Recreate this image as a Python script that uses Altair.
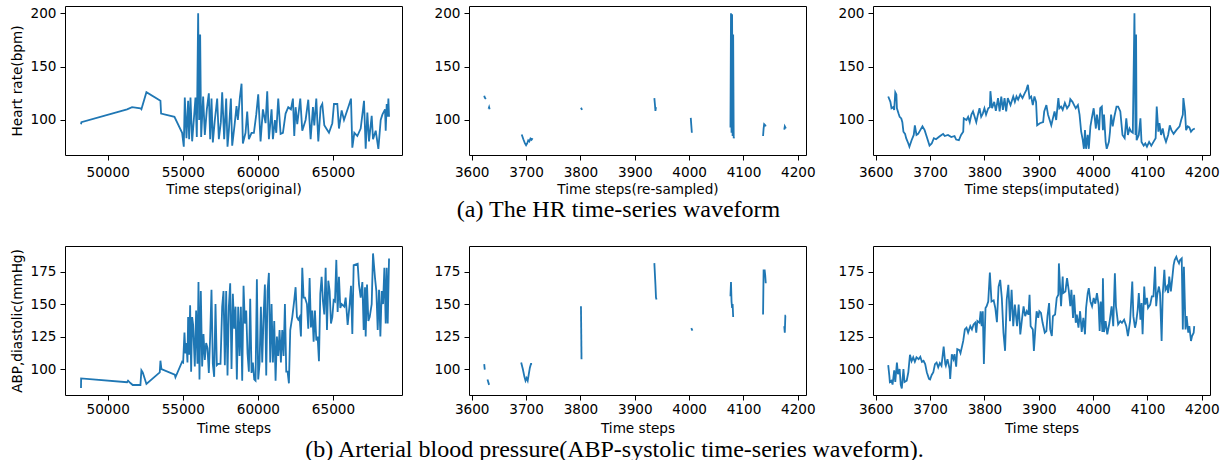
import altair as alt
import pandas as pd

BLUE = "#1f77b4"
FONT = "DejaVu Sans"

# ---------------- (a) HR, original time steps ----------------
hr_orig_t = [48224, 48250, 51289, 51622, 52178, 52244, 52578, 53511, 53555, 54444, 54955, 55066,
             55133, 55244, 55355, 55422, 55511, 55622, 55733, 55844, 55933, 56022,
             56088, 56155, 56222, 56355, 56466, 56600, 56733, 56822, 56911, 57000,
             57133, 57289, 57400, 57533, 57622, 57755, 57889, 57977, 58066, 58200,
             58289, 58444, 58577, 58666, 58800, 58911, 59000, 59177, 59288, 59400,
             59577, 59733, 59889, 60022, 60177, 60333, 60510, 60621, 60733, 60910,
             60999, 61132, 61221, 61354, 61510, 61666, 61843, 62021, 62199, 62332,
             62421, 62510, 62621, 62821, 62954, 63176, 63354, 63510, 63665, 63754,
             63888, 64021, 64176, 64287, 64421, 64554, 64732, 64954, 65065, 65287,
             65398, 65576, 65732, 66065, 66198, 66287, 66421, 66621, 66843, 67065,
             67176, 67287, 67398, 67576, 67665, 67843, 68020, 68176, 68287, 68465,
             68509, 68576, 68643, 68687, 68731]
hr_orig_v = [96, 98, 110, 112, 111, 110, 126, 118, 106, 103, 88, 75,
             121, 83, 118, 82, 121, 80, 100, 121, 84, 200,
             100, 180, 84, 122, 86, 110, 125, 82, 120, 79,
             100, 120, 82, 98, 126, 82, 120, 75, 90, 120,
             76, 95, 113, 100, 121, 134, 78, 88, 108, 82,
             88, 88, 105, 124, 80, 110, 97, 127, 82, 110,
             82, 100, 88, 120, 87, 88, 106, 112, 110, 120,
             85, 112, 96, 120, 90, 100, 119, 82, 112, 95,
             120, 80, 112, 115, 95, 92, 88, 97, 115, 115,
             92, 109, 100, 114, 120, 74, 88, 85, 92, 118,
             73, 107, 80, 104, 82, 90, 73, 100, 105, 110,
             90, 115, 103, 120, 103]

# ---------------- (a) HR, re-sampled (gaps) ----------------
hr_rs_t = [3623, 3624, 3626, 3631, 3632, 3633,
           3692, 3695, 3698, 3700, 3702, 3704, 3706, 3708, 3710, 3712,
           3801, 3803, 3936, 3937, 3938, 3939, 4003, 4004, 4005,
           4076, 4077, 4078, 4079, 4080, 4081, 4082, 4083,
           4136, 4137, 4138, 4140, 4141, 4175, 4176, 4177, 4178]
hr_rs_v = [122.7, 121, 119.6, 110.5, 112, 110,
           86.4, 82, 78, 76.3, 78, 81, 80, 82.5, 81.5, 83,
           111.5, 109.5, 120.5, 115, 108.5, 112, 102, 95, 88,
           93, 200, 88, 199, 85, 180, 83, 84,
           85, 92, 96, 95, 94, 91, 94, 93, 92]
hr_rs_seg = [1, 1, 1, 2, 2, 2,
             3, 3, 3, 3, 3, 3, 3, 3, 3, 3,
             4, 4, 5, 5, 5, 5, 6, 6, 6,
             7, 7, 7, 7, 7, 7, 7, 7,
             8, 8, 8, 8, 8, 9, 9, 9, 9]

# ---------------- (a) HR, imputed ----------------
hr_imp_t = [3623, 3627, 3629, 3632, 3634, 3636, 3638, 3639, 3642, 3644,
            3647, 3649, 3651, 3654, 3656, 3660, 3662, 3666, 3670, 3672,
            3675, 3678, 3682, 3686, 3690, 3694, 3699, 3703, 3707, 3711,
            3716, 3721, 3724, 3727, 3733, 3739, 3745, 3748, 3753, 3757,
            3761, 3762, 3767, 3770, 3773, 3776, 3779, 3782, 3785, 3788,
            3791, 3794, 3797, 3800, 3803, 3807, 3810, 3811, 3814, 3818,
            3821, 3825, 3828, 3831, 3834, 3837, 3840, 3843, 3848, 3853,
            3856, 3859, 3862, 3866, 3870, 3874, 3877, 3880, 3883, 3886,
            3889, 3892, 3895, 3897, 3902, 3908, 3910, 3914, 3917, 3920,
            3923, 3926, 3929, 3932, 3936, 3938, 3941, 3944, 3948, 3952,
            3956, 3958, 3962, 3965, 3968, 3972, 3975, 3978, 3981, 3983,
            3985, 3987, 3990, 3992, 3995, 3998, 4001, 4005, 4007, 4011,
            4013, 4016, 4018, 4020, 4023, 4025, 4029, 4031, 4033, 4036,
            4039, 4043, 4046, 4050, 4054, 4058, 4061, 4064, 4067, 4070,
            4073, 4076, 4078, 4079, 4080, 4084, 4087, 4089, 4093, 4096,
            4099, 4103, 4107, 4111, 4115, 4117, 4120, 4122, 4125, 4128,
            4131, 4134, 4138, 4141, 4144, 4148, 4153, 4159, 4162, 4165,
            4166, 4169, 4171, 4174, 4177, 4180, 4183, 4187]
hr_imp_v = [122, 117, 111, 112, 109.5, 126, 124, 111, 106, 103,
            101.5, 98, 89, 87, 83, 78, 75, 81, 86, 95,
            86, 87, 90.5, 94, 90.5, 84, 76, 78, 83, 82,
            84, 86, 87, 85, 86, 84, 85, 81.7, 81, 86,
            89, 101.5, 100, 103, 98, 105, 108, 103, 98, 105,
            111, 103, 106, 111, 105, 111, 112, 127, 111, 117,
            108.5, 120.5, 108, 122, 109.5, 120.5, 108, 120.5, 114, 122,
            117, 122, 119, 124, 120.5, 125, 128, 133, 120.5, 122,
            114, 122, 117, 95, 97, 98, 108, 114, 105, 100,
            95, 101.5, 108, 100, 120.5, 111, 112.6, 109.5, 116, 111,
            114, 119.5, 117, 114, 111, 114, 105, 89, 81, 73,
            90.5, 73, 86, 73, 94, 103, 111, 92, 105, 90.5,
            111, 112.6, 90.5, 105, 79.5, 73, 79.5, 89, 105, 94,
            103, 112.6, 112.6, 108, 86, 83, 101.5, 86, 92, 89,
            88, 200, 86, 180, 81, 86, 101.5, 79.5, 76, 78,
            75, 79.5, 76, 79.5, 83, 112.6, 89, 97, 86, 92,
            84, 79.5, 86, 95, 90.5, 87, 90.5, 94, 100, 105,
            120.5, 108, 90.5, 94, 93, 89, 91, 92]

# ---------------- (b) ABP, original time steps ----------------
abp_orig_t = [48222, 48230, 51289, 51355, 51511, 51667, 52178, 52244, 52333, 52578, 53466, 53511, 53577, 54466, 54511, 54955,
              55022, 55111, 55177, 55244, 55311, 55355, 55422, 55488, 55555, 55622,
              55688, 55799, 55888, 55977, 56044, 56111, 56199, 56288, 56377, 56466,
              56555, 56644, 56733, 56822, 56910, 56999, 57088, 57177, 57266, 57355,
              57510, 57621, 57710, 57799, 57888, 57977, 58066, 58155, 58244, 58333,
              58421, 58510, 58599, 58688, 58777, 58866, 58955, 59044, 59132, 59221,
              59310, 59399, 59488, 59577, 59666, 59755, 59843, 59932, 60021, 60110,
              60199, 60288, 60377, 60466, 60555, 60643, 60732, 60821, 60910, 60999,
              61088, 61177, 61266, 61354, 61443, 61532, 61621, 61710, 61799, 61888,
              61977, 62065, 62154, 62288, 62421, 62510, 62599, 62688, 62777, 62865,
              62954, 63043, 63132, 63265, 63354, 63443, 63532, 63621, 63710, 63799,
              63888, 63976, 64065, 64154, 64243, 64332, 64421, 64510, 64599, 64687,
              64776, 64865, 64954, 65043, 65132, 65221, 65310, 65398, 65487, 65576,
              65754, 65843, 65976, 66110, 66198, 66287, 66376, 66643, 66732, 66843,
              66954, 67043, 67132, 67176, 67265, 67354, 67443, 67576, 67665, 67798,
              67887, 67976, 68065, 68154, 68243, 68332, 68421, 68509, 68576, 68643,
              68731]
abp_orig_v = [85.4, 92.8, 89.8, 91, 89.2, 87.7, 87.7, 99, 97.4, 88.5, 97.4, 106.4, 100, 95.6, 93.6, 105.6,
              105, 128, 112, 120, 105, 140, 111, 149, 98, 140,
              134, 102, 145, 104, 167, 92, 160, 102, 127, 107,
              120, 116, 97, 125, 161, 104, 94, 150, 103, 104,
              104, 148, 160, 103, 160, 95, 148, 166, 100, 158,
              131, 148, 92, 148, 110, 148, 91, 164, 135, 145,
              112, 98, 154, 97, 105, 92, 91, 169, 92, 104,
              148, 105, 140, 165, 95, 160, 174, 105, 150, 105,
              137, 91, 125, 110, 130, 105, 130, 110, 150, 98,
              98, 89, 130, 140, 153, 163, 140, 138, 140, 125,
              178, 155, 155, 150, 131, 170, 132, 145, 121, 145,
              122, 125, 106, 158, 171, 152, 142, 178, 130, 168,
              160, 135, 140, 153, 152, 184, 144, 171, 147, 150,
              148, 155, 134, 150, 164, 127, 180, 181, 165, 155,
              167, 130, 163, 125, 165, 137, 140, 150, 189, 170,
              160, 130, 161, 125, 160, 150, 178, 135, 178, 135,
              185]

# ---------------- (b) ABP, re-sampled (gaps) ----------------
abp_rs_t = [3623, 3624, 3629, 3632,
            3691, 3694, 3697, 3699, 3701, 3703, 3705, 3707, 3709, 3711,
            3801, 3802, 3936, 3938, 3939, 3940, 4004, 4006,
            4076, 4077, 4078, 4079, 4080, 4081,
            4136, 4137, 4139, 4140, 4141, 4175, 4176, 4177, 4178]
abp_rs_v = [103.8, 99.5, 91.9, 87.8,
            105, 100, 94, 91, 93, 91, 96, 101, 104, 104,
            148.3, 107.6, 181.5, 165, 155, 153.5, 131.5, 129.5,
            156, 167, 152, 147, 150, 140,
            142, 176, 176, 172, 166, 133, 128, 141, 141]
abp_rs_seg = [1, 1, 2, 2,
              3, 3, 3, 3, 3, 3, 3, 3, 3, 3,
              4, 4, 5, 5, 5, 5, 6, 6,
              7, 7, 7, 7, 7, 7,
              8, 8, 8, 8, 8, 9, 9, 9, 9]

# ---------------- (b) ABP, imputed ----------------
abp_imp_t = [3623, 3625, 3626, 3629, 3631, 3634, 3636, 3639, 3641, 3644,
             3646, 3648, 3651, 3653, 3657, 3660, 3663, 3666, 3669, 3672,
             3675, 3679, 3682, 3685, 3688, 3691, 3694, 3698, 3700, 3703,
             3706, 3709, 3712, 3715, 3718, 3721, 3725, 3728, 3729, 3732,
             3736, 3737, 3740, 3743, 3745, 3748, 3750, 3754, 3756, 3759,
             3761, 3764, 3767, 3770, 3774, 3777, 3780, 3783, 3785, 3787,
             3791, 3793, 3795, 3797, 3799, 3802, 3804, 3807, 3810, 3813,
             3817, 3820, 3823, 3826, 3829, 3832, 3835, 3838, 3841, 3844,
             3847, 3850, 3853, 3856, 3860, 3863, 3866, 3869, 3872, 3875,
             3878, 3881, 3883, 3885, 3889, 3891, 3894, 3896, 3899, 3901,
             3904, 3907, 3911, 3914, 3916, 3919, 3921, 3924, 3926, 3930,
             3933, 3936, 3937, 3941, 3944, 3945, 3949, 3952, 3955, 3958,
             3960, 3963, 3965, 3968, 3970, 3973, 3976, 3979, 3982, 3985,
             3987, 3990, 3992, 3995, 3998, 4001, 4004, 4007, 4010, 4012,
             4014, 4017, 4018, 4020, 4023, 4026, 4030, 4034, 4037, 4040,
             4042, 4046, 4050, 4053, 4057, 4061, 4064, 4068, 4072, 4074,
             4077, 4079, 4082, 4084, 4087, 4089, 4091, 4094, 4096, 4099,
             4101, 4105, 4108, 4111, 4114, 4116, 4118, 4121, 4123, 4126,
             4128, 4131, 4133, 4136, 4138, 4140, 4143, 4145, 4148, 4150,
             4153, 4155, 4158, 4160, 4163, 4165, 4167, 4170, 4172, 4175,
             4177, 4180, 4182, 4185, 4186]
abp_imp_v = [103, 95, 90, 91, 88, 99, 90, 105, 96, 100,
             88, 85, 100, 90, 91, 97.5, 111, 106, 109, 105.6,
             109, 107.6, 109.4, 105.6, 106.4, 103.8, 97.5, 92.4, 91.9, 95.4,
             97.5, 103.8, 105, 101.3, 104.6, 102.5, 117.3, 103.8, 102.5, 107.6,
             100, 92.4, 111.4, 107.6, 111.4, 101.8, 115.3, 114.5, 112.2, 117.8,
             121.6, 130.5, 131.8, 128, 133, 130.5, 134.3, 135.6, 128, 136.9,
             135.6, 144.5, 133, 144.5, 103.8, 147, 148.3, 152, 174.2, 152,
             152.9, 147, 136, 163.5, 168.6, 154.7, 128, 114, 153.4, 164.8,
             136.9, 161, 133, 149.6, 133, 149.6, 126.7, 138, 148.3, 140.7,
             144.5, 141.9, 157.2, 133, 130.5, 114, 133, 144.5, 139.4, 144.5,
             143.2, 135.6, 128, 129.2, 140.7, 150.8, 130.5, 125.4, 140.7, 141.9,
             154.7, 157.2, 181.3, 148.3, 171.2, 158.5, 159.7, 169.9, 161, 148.3,
             161, 139.4, 157.2, 135.6, 141.9, 131.8, 144.5, 128.5, 139.4, 126.7,
             147, 158.5, 162.3, 152, 148.3, 154.7, 150.3, 158.5, 149.6, 129.2,
             152, 128.5, 169.9, 128.5, 136.9, 126.7, 135.6, 148.3, 133, 173.7,
             148.3, 134.3, 136.9, 135.6, 138, 133, 125.4, 136.9, 167.4, 140.7,
             131.8, 135.6, 145.8, 158.5, 138, 150.8, 126.7, 163.5, 149.6, 154.7,
             147, 149.6, 155.9, 155.9, 178.8, 148.3, 157.2, 163.5, 158.5, 121.6,
             157.2, 176.3, 161, 163.5, 158.5, 171.2, 159.7, 167.4, 180, 183.9,
             186.4, 183.9, 181.3, 183.9, 185.2, 130.5, 178.8, 130.5, 140.7, 128,
             133, 121.6, 125.4, 128, 133]

# ---------------- axes ----------------
orig_ticks = [50000, 55000, 60000, 65000]
rs_ticks = [3600, 3700, 3800, 3900, 4000, 4100, 4200]
hr_ticks = [100, 150, 200]
abp_ticks = [100, 125, 150, 175]

orig_dom = [47157, 69594]
rs_dom = [3595, 4215]
hr_dom = [67.2, 206.8]
abp_dom = [80.0, 194.7]

cap_a = "(a) The HR time-series waveform"
cap_b = "(b) Arterial blood pressure(ABP-systolic time-series waveform)."


def panel(t, v, seg, xdom, xticks, ydom, yticks, xtitle, ytitle,
          lab_pad, ttl_pad, caption=None, cap_offset=0, cap_dx=-22):
    if seg is None:
        seg = [0] * len(t)
    df = pd.DataFrame({"t": t, "v": v, "seg": seg})
    x = alt.X("t:Q",
              scale=alt.Scale(domain=xdom, nice=False, zero=False),
              axis=alt.Axis(values=xticks, format="d", title=xtitle,
                            labelPadding=lab_pad, titlePadding=ttl_pad))
    y = alt.Y("v:Q",
              scale=alt.Scale(domain=ydom, nice=False, zero=False),
              axis=alt.Axis(values=yticks, format="d", title=ytitle,
                            labelPadding=4, titlePadding=5.7))
    props = dict(width=337, height=149)
    if caption is not None:
        props["title"] = alt.TitleParams(
            text=caption, orient="bottom", anchor="middle", frame="group",
            baseline="top", offset=cap_offset, dx=cap_dx,
            font="Liberation Serif", fontSize=24, fontWeight="normal",
            color="black")
    return (alt.Chart(df)
            .mark_line(color=BLUE, strokeWidth=1.8, clip=True)
            .encode(x=x, y=y, detail="seg:N")
            .properties(**props))


p1 = panel(hr_orig_t, hr_orig_v, None, orig_dom, orig_ticks, hr_dom, hr_ticks,
           "Time steps(original)", "Heart rate(bpm)", 5.2, 4.1)
p2 = panel(hr_rs_t, hr_rs_v, hr_rs_seg, rs_dom, rs_ticks, hr_dom, hr_ticks,
           "Time steps(re-sampled)", None, 5.2, 4.1,
           caption=cap_a, cap_offset=1.5, cap_dx=-19)
p3 = panel(hr_imp_t, hr_imp_v, None, rs_dom, rs_ticks, hr_dom, hr_ticks,
           "Time steps(imputated)", None, 5.2, 4.1)
p4 = panel(abp_orig_t, abp_orig_v, None, orig_dom, orig_ticks, abp_dom, abp_ticks,
           "Time steps", "ABP,diastolic(mmHg)", 2.5, 5.8)
p5 = panel(abp_rs_t, abp_rs_v, abp_rs_seg, rs_dom, rs_ticks, abp_dom, abp_ticks,
           "Time steps", None, 2.5, 5.8,
           caption=cap_b, cap_offset=2, cap_dx=-23)
p6 = panel(abp_imp_t, abp_imp_v, None, rs_dom, rs_ticks, abp_dom, abp_ticks,
           "Time steps", None, 2.5, 5.8)

chart = (alt.concat(p1, p2, p3, p4, p5, p6, columns=3,
                    spacing={"row": 91, "column": 67}, bounds="flush")
         .properties(padding={"left": 9, "top": 5, "right": 5, "bottom": 0},
                     background="white")
         .configure_view(stroke="black", strokeWidth=1)
         .configure_axis(labelFont=FONT, titleFont=FONT,
                         labelFontSize=13.6, titleFontSize=13.6,
                         titleFontWeight="normal",
                         labelColor="black", titleColor="black",
                         tickColor="black", tickSize=5, tickWidth=1,
                         domain=False, grid=False,
                         labelFlush=False, labelOverlap=False))

chart.save("out.html", embed_options={"renderer": "svg", "actions": False})
